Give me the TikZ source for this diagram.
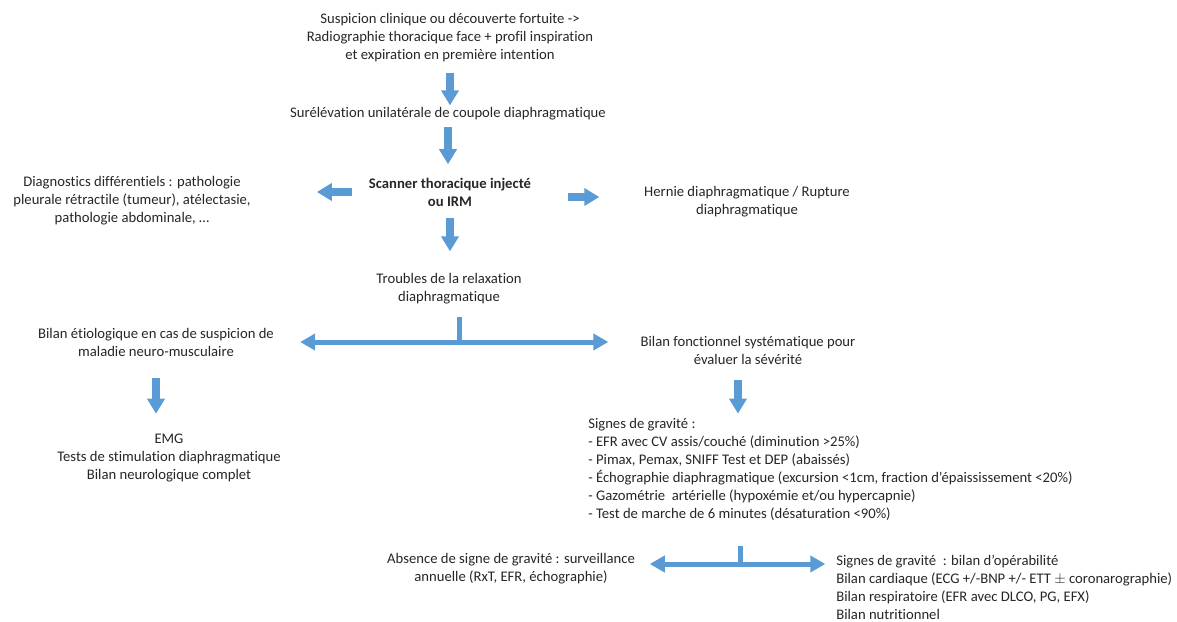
\documentclass[tikz,border=0pt]{standalone}
\usepackage{fontspec}
\setmainfont{Carlito}[Ligatures={NoCommon,NoRare}]
\usetikzlibrary{arrows.meta,calc,positioning}
\definecolor{flowblue}{RGB}{91,155,213}
\definecolor{txtgrey}{RGB}{38,38,38}

\begin{document}
\begin{tikzpicture}[x=0.75pt,y=-0.75pt,font=\fontsize{11}{13.5}\selectfont,text=txtgrey]

\tikzset{txt/.style={inner sep=0pt,align=center},
bigarrow/.style={draw=flowblue,line width=6pt,-{Triangle[width=12.75pt,length=11.25pt]}},
branch/.style={draw=flowblue,line width=3.75pt,-{Triangle[width=12pt,length=11.25pt]}},
stub/.style={draw=flowblue,line width=3.75pt}}

\useasboundingbox (0,0) rectangle (1177,621);

% Main column
\node[txt] (top) at (450,38) {Suspicion clinique ou découverte fortuite ->\\Radiographie thoracique face + profil inspiration\\et expiration en première intention};
\node[txt] (sur) at (448,114) {Surélévation unilatérale de coupole diaphragmatique};
\node[txt,font=\fontsize{11}{13.5}\selectfont\bfseries] (scan) at (450,192) {Scanner thoracique injecté\\ou IRM};
\node[txt] (troubles) at (449,289) {Troubles de la relaxation\\diaphragmatique};

% Side nodes
\node[txt] (diff) at (132,201) {Diagnostics différentiels : pathologie\\pleurale rétractile (tumeur), atélectasie,\\pathologie abdominale, \dots};
\node[txt] (hernie) at (747,202) {Hernie diaphragmatique / Rupture\\diaphragmatique};

% Second level
\node[txt] (etio) at (156,342) {Bilan étiologique en cas de suspicion de\\maladie neuro-musculaire};
\node[txt] (fonct) at (748,350) {Bilan fonctionnel systématique pour\\évaluer la sévérité};
\node[txt] (emg) at (169,458) {EMG\\Tests de stimulation diaphragmatique\\Bilan neurologique complet};
\node[txt,align=left,anchor=west] (signes) at (588,469) {Signes de gravité :\\- EFR avec CV assis/couché (diminution >25\%)\\- Pimax, Pemax, SNIFF Test et DEP (abaissés)\\- Échographie diaphragmatique (excursion <1cm, fraction d’épaississement <20\%)\\- Gazométrie\ \ artérielle (hypoxémie et/ou hypercapnie)\\- Test de marche de 6 minutes (désaturation <90\%)};

% Bottom level
\node[txt] (absence) at (511,569) {Absence de signe de gravité : surveillance\\annuelle (RxT, EFR, échographie)};
\node[txt,align=left,anchor=west] (opera) at (836,587) {Signes de gravité\ \ : bilan d’opérabilité\\Bilan cardiaque (ECG +/-BNP +/- ETT $\pm$ coronarographie)\\Bilan respiratoire (EFR avec DLCO, PG, EFX)\\Bilan nutritionnel};

% Branch points
\coordinate (split1) at (459,342);
\coordinate (split2) at (740,564);

% Arrows
\draw[bigarrow,shorten <=7.5pt,shorten >=1.5pt] (top.south) -- (top.south |- sur.north);
\draw[bigarrow,shorten <=5pt,shorten >=10pt] (sur.south) -- (sur.south |- scan.north);
\draw[bigarrow,shorten <=9pt,shorten >=16.5pt] (scan.south) -- (scan.south |- troubles.north);
\draw[bigarrow,shorten <=12.75pt,shorten >=49.5pt] (scan.west) -- (scan.west -| diff.east);
\draw[bigarrow,shorten <=27.5pt,shorten >=33.5pt] ([yshift=-3.75pt]scan.east) -- ([yshift=-3.75pt]scan.east -| hernie.west);
\draw[stub,shorten >=9pt] (split1) -- (split1 |- troubles.south);
\draw[branch,shorten >=19.5pt] (split1) -- (split1 -| etio.east);
\draw[branch,shorten >=24pt] (split1) -- (split1 -| fonct.west);
\draw[bigarrow,shorten <=16.5pt,shorten >=15pt] (etio.south) -- (etio.south |- emg.north);
\draw[bigarrow,shorten <=12pt,shorten >=3pt] ([xshift=-7.5pt]fonct.south) -- ([xshift=-7.5pt]fonct.south |- signes.north);
\draw[stub,shorten >=19.5pt] (split2) -- (split2 |- signes.south);
\draw[branch,shorten >=11pt] (split2) -- (split2 -| absence.east);
\draw[branch,shorten >=8pt] (split2) -- (split2 -| opera.west);

\end{tikzpicture}
\end{document}
